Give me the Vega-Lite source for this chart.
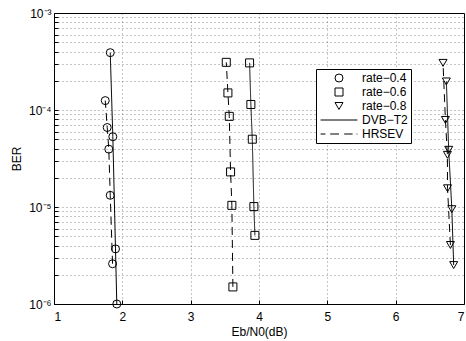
{
  "$schema": "https://vega.github.io/schema/vega-lite/v6.json",
  "width": 410,
  "height": 291,
  "autosize": {"type": "none"},
  "padding": {"left": 54, "top": 13, "right": 2, "bottom": 37},
  "background": "white",
  "config": {
    "font": "Liberation Sans",
    "view": {"stroke": "black", "strokeWidth": 1},
    "axis": {
      "labelFont": "Liberation Sans",
      "titleFont": "Liberation Sans",
      "labelFontSize": 12,
      "titleFontSize": 12,
      "titleFontWeight": "normal",
      "labelColor": "black",
      "titleColor": "black",
      "domain": false,
      "grid": true,
      "gridColor": "#000000",
      "gridOpacity": 0.45,
      "gridDash": [1, 3],
      "gridWidth": 1,
      "tickColor": "black",
      "tickSize": -4,
      "labelOverlap": false
    }
  },
  "data": {
    "values": [
      {"rate": "rate-0.4", "scheme": "DVB-T2", "ebn0": 1.823, "ber": 3.9e-4},
      {"rate": "rate-0.4", "scheme": "DVB-T2", "ebn0": 1.861, "ber": 5.3e-5},
      {"rate": "rate-0.4", "scheme": "DVB-T2", "ebn0": 1.900, "ber": 3.7e-6},
      {"rate": "rate-0.4", "scheme": "DVB-T2", "ebn0": 1.919, "ber": 1.0e-6},
      {"rate": "rate-0.4", "scheme": "HRSEV", "ebn0": 1.750, "ber": 1.25e-4},
      {"rate": "rate-0.4", "scheme": "HRSEV", "ebn0": 1.779, "ber": 6.6e-5},
      {"rate": "rate-0.4", "scheme": "HRSEV", "ebn0": 1.802, "ber": 3.95e-5},
      {"rate": "rate-0.4", "scheme": "HRSEV", "ebn0": 1.823, "ber": 1.32e-5},
      {"rate": "rate-0.4", "scheme": "HRSEV", "ebn0": 1.857, "ber": 2.6e-6},
      {"rate": "rate-0.6", "scheme": "HRSEV", "ebn0": 3.521, "ber": 3.1e-4},
      {"rate": "rate-0.6", "scheme": "HRSEV", "ebn0": 3.545, "ber": 1.5e-4},
      {"rate": "rate-0.6", "scheme": "HRSEV", "ebn0": 3.565, "ber": 8.6e-5},
      {"rate": "rate-0.6", "scheme": "HRSEV", "ebn0": 3.584, "ber": 2.3e-5},
      {"rate": "rate-0.6", "scheme": "HRSEV", "ebn0": 3.603, "ber": 1.04e-5},
      {"rate": "rate-0.6", "scheme": "HRSEV", "ebn0": 3.618, "ber": 1.5e-6},
      {"rate": "rate-0.6", "scheme": "DVB-T2", "ebn0": 3.862, "ber": 3.06e-4},
      {"rate": "rate-0.6", "scheme": "DVB-T2", "ebn0": 3.881, "ber": 1.14e-4},
      {"rate": "rate-0.6", "scheme": "DVB-T2", "ebn0": 3.902, "ber": 5.0e-5},
      {"rate": "rate-0.6", "scheme": "DVB-T2", "ebn0": 3.925, "ber": 1.01e-5},
      {"rate": "rate-0.6", "scheme": "DVB-T2", "ebn0": 3.940, "ber": 5.1e-6},
      {"rate": "rate-0.8", "scheme": "HRSEV", "ebn0": 6.693, "ber": 3.06e-4},
      {"rate": "rate-0.8", "scheme": "HRSEV", "ebn0": 6.728, "ber": 7.9e-5},
      {"rate": "rate-0.8", "scheme": "HRSEV", "ebn0": 6.757, "ber": 3.45e-5},
      {"rate": "rate-0.8", "scheme": "HRSEV", "ebn0": 6.759, "ber": 1.56e-5},
      {"rate": "rate-0.8", "scheme": "HRSEV", "ebn0": 6.801, "ber": 4.06e-6},
      {"rate": "rate-0.8", "scheme": "DVB-T2", "ebn0": 6.742, "ber": 1.97e-4},
      {"rate": "rate-0.8", "scheme": "DVB-T2", "ebn0": 6.776, "ber": 3.89e-5},
      {"rate": "rate-0.8", "scheme": "DVB-T2", "ebn0": 6.822, "ber": 9.5e-6},
      {"rate": "rate-0.8", "scheme": "DVB-T2", "ebn0": 6.849, "ber": 2.52e-6}
    ]
  },
  "encoding": {
    "x": {
      "field": "ebn0",
      "type": "quantitative",
      "scale": {"domain": [1, 7], "nice": false, "zero": false},
      "axis": {
        "values": [1, 2, 3, 4, 5, 6, 7],
        "format": "d",
        "title": "Eb/N0(dB)",
        "labelPadding": 11,
        "titlePadding": 4
      }
    },
    "y": {
      "field": "ber",
      "type": "quantitative",
      "scale": {"type": "log", "domain": [1e-6, 1e-3], "nice": false},
      "axis": {
        "values": [1e-6, 2e-6, 3e-6, 4e-6, 5e-6, 6e-6, 7e-6, 8e-6, 9e-6, 1e-5, 2e-5, 3e-5, 4e-5, 5e-5, 6e-5, 7e-5, 8e-5, 9e-5, 1e-4, 2e-4, 3e-4, 4e-4, 5e-4, 6e-4, 7e-4, 8e-4, 9e-4, 1e-3],
        "labelExpr": "datum.value == 1e-3 ? '10⁻³' : datum.value == 1e-4 ? '10⁻⁴' : datum.value == 1e-5 ? '10⁻⁵' : datum.value == 1e-6 ? '10⁻⁶' : ''",
        "title": "BER",
        "labelPadding": 7,
        "titlePadding": 5
      }
    }
  },
  "layer": [
    {
      "mark": {"type": "line", "color": "black", "strokeWidth": 1},
      "encoding": {
        "detail": {"field": "rate", "type": "nominal"},
        "strokeDash": {
          "field": "scheme",
          "type": "nominal",
          "scale": {"domain": ["DVB-T2", "HRSEV"], "range": [[1, 0], [8, 5]]},
          "legend": null
        },
        "order": {"field": "ber", "type": "quantitative"}
      }
    },
    {
      "mark": {"type": "point", "filled": false, "color": "black", "strokeWidth": 1, "opacity": 1, "size": 64},
      "encoding": {
        "shape": {
          "field": "rate",
          "type": "nominal",
          "scale": {
            "domain": ["rate-0.4", "rate-0.6", "rate-0.8", "DVB-T2", "HRSEV"],
            "range": ["circle", "square", "triangle-down", "M-4.6,0H4.6", "M-4.6,0H-3.4M-2.2,0H0M1.3,0H3.4M4.4,0H4.6"]
          },
          "legend": {
            "title": null,
            "orient": "none",
            "legendX": 262,
            "legendY": 56,
            "padding": 3,
            "rowPadding": 2,
            "strokeColor": "black",
            "fillColor": "white",
            "labelFont": "Liberation Sans",
            "labelFontSize": 12,
            "labelColor": "black",
            "labelOffset": 17,
            "symbolOffset": 14,
            "symbolSize": 64,
            "labelExpr": "replace(datum.label, '-', '−')",
            "symbolStrokeColor": "black",
            "symbolFillColor": "transparent",
            "symbolStrokeWidth": 1
          }
        }
      }
    }
  ]
}
